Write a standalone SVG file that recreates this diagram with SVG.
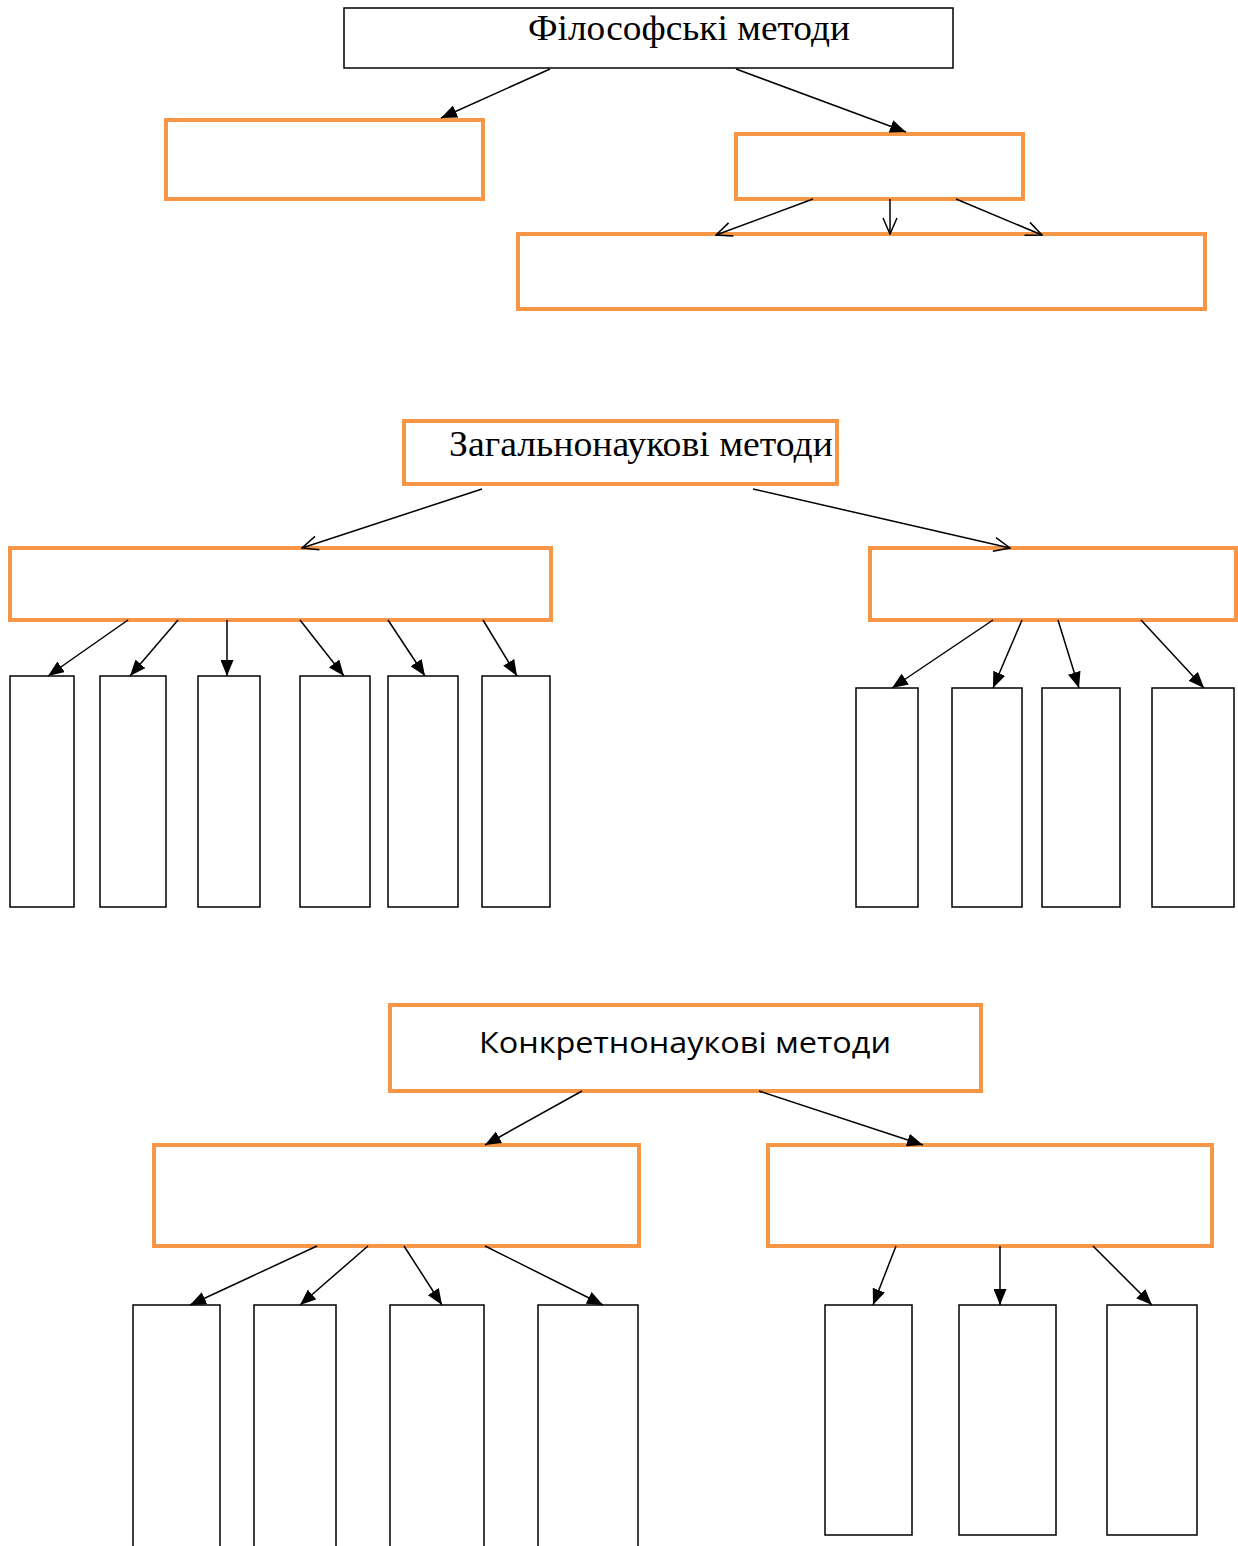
<svg xmlns="http://www.w3.org/2000/svg" width="1238" height="1546" viewBox="0 0 1238 1546">
<style>
.o{fill:#fff;stroke:#F79646;stroke-width:4}
.b{fill:#fff;stroke:#000;stroke-width:1.5}
.c{fill:none;stroke:#000;stroke-width:1.5}
.f{marker-end:url(#fa)}
.v{marker-end:url(#va)}
.ts{font-family:"Liberation Serif","Times New Roman",serif;font-size:36px;fill:#000}
.tn{font-family:"Open Sans","Liberation Sans",sans-serif;font-size:30px;fill:#000}
</style>
<defs>
<marker id="fa" viewBox="0 0 16 13" refX="16" refY="6.5" markerWidth="16" markerHeight="13" markerUnits="userSpaceOnUse" orient="auto">
<path d="M0,0 L16,6.5 L0,13 z" fill="#000"/>
</marker>
<marker id="va" viewBox="-1 -1 18 16" refX="16" refY="7" markerWidth="18" markerHeight="16" markerUnits="userSpaceOnUse" orient="auto">
<path d="M0,0 L16,7 L0,14" fill="none" stroke="#000" stroke-width="1.5"/>
</marker>
</defs>
<rect width="1238" height="1546" fill="#fff"/>
<g id="nodes">
<g id="philos"><rect class="b" x="344" y="8" width="609" height="60"/><text class="ts" x="528" y="40" textLength="322" lengthAdjust="spacingAndGlyphs">Філософські методи</text></g>
<g id="p1"><rect class="o" x="166" y="120" width="317" height="79"/></g>
<g id="p2"><rect class="o" x="736" y="134" width="287" height="65"/></g>
<g id="p3"><rect class="o" x="518" y="234" width="687" height="75"/></g>

<g id="general"><rect class="o" x="404" y="421" width="433" height="63"/><text class="ts" x="449" y="456" textLength="384" lengthAdjust="spacingAndGlyphs">Загальнонаукові методи</text></g>
<g id="g1"><rect class="o" x="10" y="548" width="541" height="72"/></g>
<g id="g2"><rect class="o" x="870" y="548" width="366" height="72"/></g>
<g id="g1a"><rect class="b" x="10" y="676" width="64" height="231"/></g>
<g id="g1b"><rect class="b" x="100" y="676" width="66" height="231"/></g>
<g id="g1c"><rect class="b" x="198" y="676" width="62" height="231"/></g>
<g id="g1d"><rect class="b" x="300" y="676" width="70" height="231"/></g>
<g id="g1e"><rect class="b" x="388" y="676" width="70" height="231"/></g>
<g id="g1f"><rect class="b" x="482" y="676" width="68" height="231"/></g>
<g id="g2a"><rect class="b" x="856" y="688" width="62" height="219"/></g>
<g id="g2b"><rect class="b" x="952" y="688" width="70" height="219"/></g>
<g id="g2c"><rect class="b" x="1042" y="688" width="78" height="219"/></g>
<g id="g2d"><rect class="b" x="1152" y="688" width="82" height="219"/></g>

<g id="concrete"><rect class="o" x="390" y="1005" width="591" height="86"/><text class="tn" x="685" y="1053" text-anchor="middle" textLength="412" lengthAdjust="spacingAndGlyphs">Конкретнонаукові методи</text></g>
<g id="k1"><rect class="o" x="154" y="1145" width="485" height="101"/></g>
<g id="k2"><rect class="o" x="768" y="1145" width="444" height="101"/></g>
<g id="k1a"><rect class="b" x="133" y="1305" width="87" height="260"/></g>
<g id="k1b"><rect class="b" x="254" y="1305" width="82" height="260"/></g>
<g id="k1c"><rect class="b" x="390" y="1305" width="94" height="260"/></g>
<g id="k1d"><rect class="b" x="538" y="1305" width="100" height="260"/></g>
<g id="k2a"><rect class="b" x="825" y="1305" width="87" height="230"/></g>
<g id="k2b"><rect class="b" x="959" y="1305" width="97" height="230"/></g>
<g id="k2c"><rect class="b" x="1107" y="1305" width="90" height="230"/></g>
</g>
<g id="connectors">
<line class="c f" x1="550" y1="69" x2="441" y2="118"/>
<line class="c f" x1="736" y1="69" x2="906" y2="132"/>
<line class="c v" x1="813" y1="199" x2="716" y2="235"/>
<line class="c v" x1="890" y1="199" x2="890" y2="234"/>
<line class="c v" x1="956" y1="199" x2="1042" y2="235"/>

<line class="c v" x1="482" y1="489" x2="302" y2="548"/>
<line class="c v" x1="753" y1="489" x2="1010" y2="548"/>
<line class="c f" x1="128" y1="620" x2="48" y2="676"/>
<line class="c f" x1="178" y1="620" x2="130" y2="676"/>
<line class="c f" x1="227" y1="620" x2="227" y2="676"/>
<line class="c f" x1="300" y1="620" x2="344" y2="676"/>
<line class="c f" x1="388" y1="620" x2="425" y2="676"/>
<line class="c f" x1="483" y1="620" x2="517" y2="676"/>
<line class="c f" x1="993" y1="620" x2="892" y2="688"/>
<line class="c f" x1="1022" y1="620" x2="993" y2="688"/>
<line class="c f" x1="1058" y1="620" x2="1079" y2="688"/>
<line class="c f" x1="1141" y1="620" x2="1204" y2="688"/>

<line class="c f" x1="582" y1="1091" x2="485" y2="1145"/>
<line class="c f" x1="759" y1="1091" x2="923" y2="1145"/>
<line class="c f" x1="317" y1="1246" x2="190" y2="1305"/>
<line class="c f" x1="368" y1="1246" x2="300" y2="1305"/>
<line class="c f" x1="404" y1="1246" x2="442" y2="1305"/>
<line class="c f" x1="485" y1="1246" x2="603" y2="1305"/>
<line class="c f" x1="896" y1="1246" x2="873" y2="1305"/>
<line class="c f" x1="1000" y1="1246" x2="1000" y2="1305"/>
<line class="c f" x1="1093" y1="1246" x2="1152" y2="1305"/>
</g>
</svg>
